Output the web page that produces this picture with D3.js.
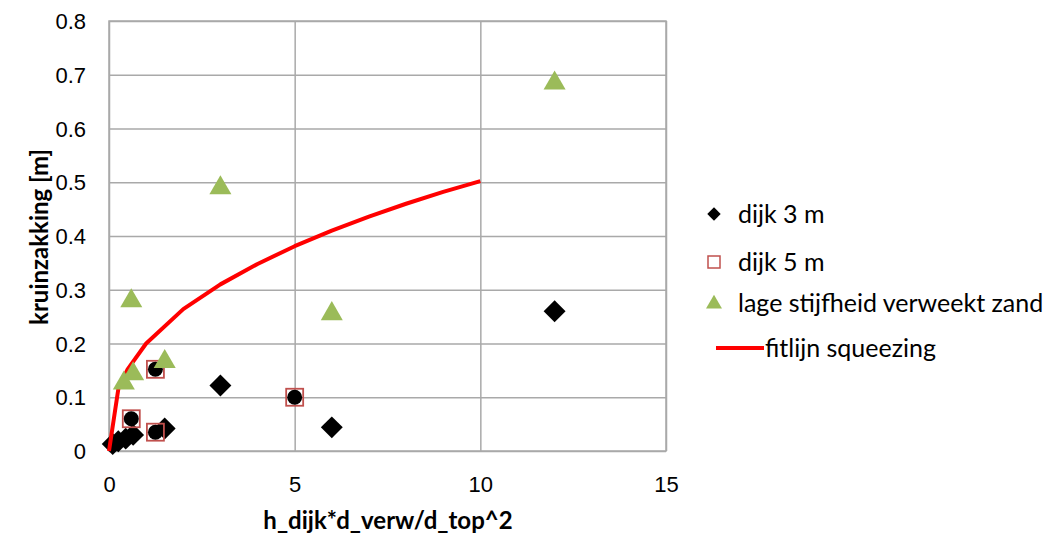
<!DOCTYPE html>
<html>
<head>
<meta charset="utf-8">
<script src="https://cdn.jsdelivr.net/npm/d3@7"></script>
<style>
html,body{margin:0;padding:0;background:#fff;}
svg{display:block;font-family:Lato,"Open Sans",sans-serif;}
</style>
</head>
<body>
<svg id="chart" width="1057" height="536"></svg>
<script>
// ---- data ----
const dijk3X = [0.1, 0.25, 0.45, 0.65, 1.5, 3, 6, 12];
const dijk3Y = [0.013, 0.018, 0.023, 0.03, 0.042, 0.122, 0.044, 0.26];
const dijk5X = [0.6, 1.25, 1.25, 5];
const dijk5Y = [0.06, 0.035, 0.152, 0.1];
const circX = [0.6, 1.25, 1.25, 5];
const circY = [0.06, 0.035, 0.152, 0.1];
const zandX = [0.4, 0.6, 0.65, 1.5, 3, 6, 12];
const zandY = [0.13, 0.283, 0.147, 0.17, 0.493, 0.259, 0.688];
const fitX = [0, 0.25, 0.5, 1, 2, 3, 4, 5, 6, 7, 8, 9, 10];
const fitY = [0, 0.115, 0.152, 0.2, 0.264, 0.31, 0.348, 0.381, 0.41, 0.436, 0.46, 0.482, 0.502];
const xTicks = [0, 5, 10, 15];
const yTicks = [0, 0.1, 0.2, 0.3, 0.4, 0.5, 0.6, 0.7, 0.8];
const yTickLabels = ["0", "0.1", "0.2", "0.3", "0.4", "0.5", "0.6", "0.7", "0.8"];
const legendLabels = ["dijk 3 m", "dijk 5 m", "lage stijfheid verweekt zand", "fitlijn squeezing"];

const svg = d3.select("#chart");
const L = 109, R = 666, T = 21, B = 451;
const x = d3.scaleLinear().domain([0, 15]).range([L, R]);
const y = d3.scaleLinear().domain([0, 0.8]).range([B, T]);
const grid = "#a9a9a9";

// gridlines
const gx = svg.append("g").attr("transform", `translate(0,${B})`)
  .call(d3.axisBottom(x).tickValues(xTicks).tickSize(-(B - T)).tickFormat(d => d));
gx.select(".domain").remove();
gx.selectAll("line").attr("stroke", grid).attr("stroke-width", 1.5);
gx.selectAll("text").attr("font-size", 22).attr("fill", "#000").attr("y", 33).attr("dy", "0.35em");

const gy = svg.append("g").attr("transform", `translate(${L},0)`)
  .call(d3.axisLeft(y).tickValues(yTicks).tickSize(-(R - L)).tickFormat((d, i) => yTickLabels[i]));
gy.select(".domain").remove();
gy.selectAll("line").attr("stroke", grid).attr("stroke-width", 1.5);
gy.selectAll("text").attr("font-size", 22).attr("fill", "#000").attr("x", -23).attr("dy", "0.35em");

svg.append("rect").attr("x", L).attr("y", T).attr("width", R - L).attr("height", B - T)
  .attr("fill", "none").attr("stroke", grid).attr("stroke-width", 1.5);

// axis titles
svg.append("text").attr("x", 388).attr("y", 521).attr("dy", "0.35em").attr("text-anchor", "middle")
  .attr("font-size", 24).attr("font-weight", "bold").text("h_dijk*d_verw/d_top^2");
svg.append("text").attr("transform", `translate(40,237) rotate(-90)`).attr("dy", "0.35em").attr("text-anchor", "middle")
  .attr("font-size", 24).attr("font-weight", "bold").text("kruinzakking [m]");

const diamond = d3.symbol().type(d3.symbolSquare).size(240);
const tri = d3.symbol().type(d3.symbolTriangle).size(210);

// dijk 3 m diamonds
svg.append("g").selectAll("path").data(dijk3X).join("path")
  .attr("d", diamond)
  .attr("transform", (d, i) => `translate(${x(d)},${y(dijk3Y[i])}) rotate(45)`)
  .attr("fill", "#000");

// dijk 5 m squares with circles
svg.append("g").selectAll("rect").data(dijk5X).join("rect")
  .attr("x", d => x(d) - 8.5).attr("y", (d, i) => y(dijk5Y[i]) - 8.5)
  .attr("width", 17).attr("height", 17)
  .attr("fill", "none").attr("stroke", "#c0504d").attr("stroke-width", 1.8);
svg.append("g").selectAll("circle").data(circX).join("circle")
  .attr("cx", d => x(d)).attr("cy", (d, i) => y(circY[i])).attr("r", 7.5).attr("fill", "#000");

// fit line
svg.append("path").datum(fitX.map((d, i) => [d, fitY[i]]))
  .attr("d", d3.line().x(d => x(d[0])).y(d => y(d[1])))
  .attr("fill", "none").attr("stroke", "#ff0000").attr("stroke-width", 4).attr("stroke-linejoin", "round");

// triangles
svg.append("g").selectAll("path").data(zandX).join("path")
  .attr("d", tri)
  .attr("transform", (d, i) => `translate(${x(d)},${y(zandY[i]) + 2})`)
  .attr("fill", "#9bbb59");

// legend
const lg = svg.append("g");
const lx = 714, ly = [214, 262, 303, 348];
lg.append("path").attr("d", d3.symbol().type(d3.symbolSquare).size(90)).attr("transform", `translate(${lx},${ly[0]}) rotate(45)`).attr("fill", "#000");
lg.append("rect").attr("x", lx - 6).attr("y", ly[1] - 6).attr("width", 12).attr("height", 12).attr("fill", "none").attr("stroke", "#c0504d").attr("stroke-width", 1.5);
lg.append("path").attr("d", d3.symbol().type(d3.symbolTriangle).size(110)).attr("transform", `translate(${lx},${ly[2] + 1})`).attr("fill", "#9bbb59");
lg.append("line").attr("x1", 716).attr("x2", 764).attr("y1", ly[3]).attr("y2", ly[3]).attr("stroke", "#ff0000").attr("stroke-width", 4);
legendLabels.forEach((t, i) => {
  lg.append("text").attr("x", i === 3 ? 765 : 738).attr("y", ly[i]).attr("dy", "0.35em")
    .attr("font-size", 25).text(t);
});
</script>
</body>
</html>
